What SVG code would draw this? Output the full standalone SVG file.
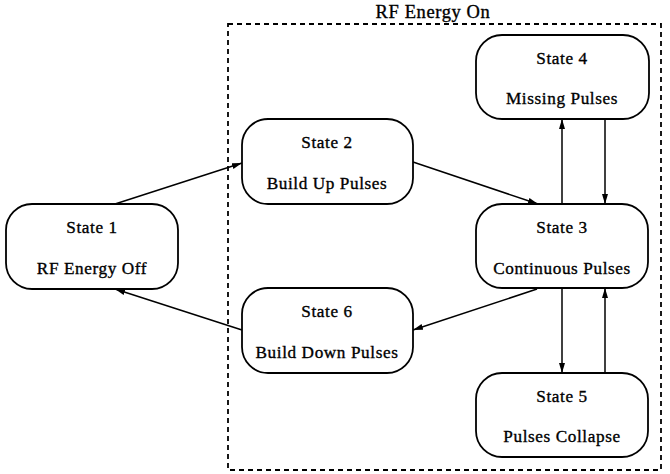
<svg xmlns="http://www.w3.org/2000/svg" width="670" height="474" viewBox="0 0 670 474">
<defs>
<marker id="ah" viewBox="0 0 10 6" refX="10" refY="3" markerWidth="10" markerHeight="6" markerUnits="userSpaceOnUse" orient="auto">
<path d="M0,0 L10,3 L0,6 Z" fill="#000"/>
</marker>
</defs>
<style>
.box{fill:#fff;stroke:#000;stroke-width:1.8}
.t{font-family:"Liberation Serif","DejaVu Serif",serif;font-size:17.2px;text-anchor:middle;fill:#000;stroke:#000;stroke-width:0.35;letter-spacing:0.6px}
.c{stroke:#000;stroke-width:1.5;fill:none;marker-end:url(#ah)}
</style>
<rect width="670" height="474" fill="#fff"/>
<g id="group-rf-on">
<rect x="228" y="24" width="433" height="446" fill="none" stroke="#000" stroke-width="1.8" stroke-dasharray="5,4"/>
<text class="t" x="433" y="18" style="font-size:18.5px">RF Energy On</text>
</g>
<g id="connectors">
<line class="c" x1="115" y1="204" x2="242" y2="163"/>
<line class="c" x1="413" y1="162" x2="538" y2="204"/>
<line class="c" x1="562" y1="204" x2="562" y2="119"/>
<line class="c" x1="605" y1="119" x2="605" y2="204"/>
<line class="c" x1="562" y1="288" x2="562" y2="373"/>
<line class="c" x1="605" y1="373" x2="605" y2="288"/>
<line class="c" x1="537" y1="289" x2="413" y2="330"/>
<line class="c" x1="242" y1="330" x2="115" y2="289"/>
</g>
<g id="state1">
<rect class="box" x="6" y="204" width="172" height="85" rx="26"/>
<text class="t" x="92" y="233">State 1</text>
<text class="t" x="92" y="274">RF Energy Off</text>
</g>
<g id="state2">
<rect class="box" x="242" y="119" width="171" height="85" rx="26"/>
<text class="t" x="327" y="148">State 2</text>
<text class="t" x="327" y="189">Build Up Pulses</text>
</g>
<g id="state3">
<rect class="box" x="476" y="204" width="172" height="84" rx="26"/>
<text class="t" x="562" y="233">State 3</text>
<text class="t" x="562" y="274">Continuous Pulses</text>
</g>
<g id="state4">
<rect class="box" x="476" y="35" width="173" height="84" rx="26"/>
<text class="t" x="562" y="64">State 4</text>
<text class="t" x="562" y="104">Missing Pulses</text>
</g>
<g id="state5">
<rect class="box" x="476" y="373" width="172" height="84" rx="26"/>
<text class="t" x="562" y="402">State 5</text>
<text class="t" x="562" y="442">Pulses Collapse</text>
</g>
<g id="state6">
<rect class="box" x="242" y="288" width="171" height="85" rx="26"/>
<text class="t" x="327" y="317">State 6</text>
<text class="t" x="327" y="358">Build Down Pulses</text>
</g>
</svg>
